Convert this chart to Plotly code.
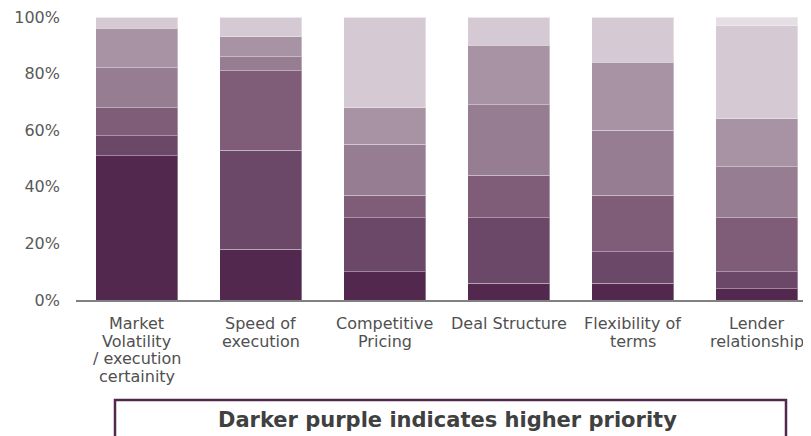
import plotly.graph_objects as go

categories = ["Market<br>Volatility<br>/ execution<br>certainity", "Speed of<br>execution",
              "Competitive<br>Pricing", "Deal Structure", "Flexibility of<br>terms",
              "Lender<br>relationship"]

# priority levels, darkest (highest priority) first
p1 = [51, 18, 10, 6, 6, 4]
p2 = [7, 35, 19, 23, 11, 6]
p3 = [10, 28, 8, 15, 20, 19]
p4 = [14, 5, 18, 25, 23, 18]
p5 = [14, 7, 13, 21, 24, 17]
p6 = [4, 7, 32, 10, 16, 33]
p7 = [0, 0, 0, 0, 0, 3]
series = [p1, p2, p3, p4, p5, p6, p7]
colors = ["#52284F", "#6B4867", "#7F5D79", "#977D92", "#A893A5", "#D5C9D3", "#E6DEE5"]

tick_vals = [0, 20, 40, 60, 80, 100]
tick_text = [f"{v}%" for v in tick_vals]
note = "Darker purple indicates higher priority"

FONT = "Verdana, DejaVu Sans, sans-serif"

# page has 8px body margin; layout in figure pixels
W, H = 811, 436
L, T, B = 68, 9, 144
PW = W - L
PH = H - T - B


def py(win_y):  # window pixel y -> paper y
    return (300 - win_y) / PH


def px(win_x):  # window pixel x -> paper x
    return (win_x - 76) / PW


xs = list(range(len(categories)))
fig = go.Figure()
for i, (vals, col) in enumerate(zip(series, colors)):
    fig.add_trace(go.Bar(
        x=xs, y=vals,
        marker=dict(color=col, line=dict(color="rgba(255,255,255,0.35)", width=1)),
        width=0.66, name=f"P{i+1}", hoverinfo="y"))

fig.update_layout(
    barmode="stack", width=W, height=H, showlegend=False,
    plot_bgcolor="white", paper_bgcolor="white",
    margin=dict(l=L, r=0, t=T, b=B),
    font=dict(family=FONT, size=16, color="#404040"),
    xaxis=dict(tickvals=xs, showticklabels=False,
               range=[-0.49, -0.49 + PW / 124], showline=True, linecolor="#808080", linewidth=2,
               ticks="", showgrid=False, zeroline=False),
    yaxis=dict(range=[0, 100], tickvals=tick_vals, ticktext=tick_text, showgrid=False,
               zeroline=False, ticks="", tickfont=dict(size=16, color="#595959"),
               ticklabelstandoff=15, ticklabeloverflow="allow"),
)

# category labels, one annotation per line to keep the tight line spacing
for xi, cat in zip(xs, categories):
    for li, line in enumerate(cat.split("<br>")):
        fig.add_annotation(text=line, x=xi, xref="x", y=py(323.5 + 17.5 * li), yref="paper",
                           showarrow=False, xanchor="center", yanchor="middle",
                           font=dict(family=FONT, size=16, color="#505050"))

fig.add_shape(type="rect", xref="paper", yref="paper",
              x0=px(115), x1=px(786), y0=-0.7, y1=py(400),
              line=dict(color="#52284F", width=2.5), fillcolor="white", layer="above")
fig.add_annotation(text=f"<b>{note}</b>", xref="paper", yref="paper",
                   x=px(448), y=py(420), showarrow=False,
                   font=dict(family=FONT, size=21, color="#404040"), xanchor="center", yanchor="middle")

fig.write_html("out.html")
